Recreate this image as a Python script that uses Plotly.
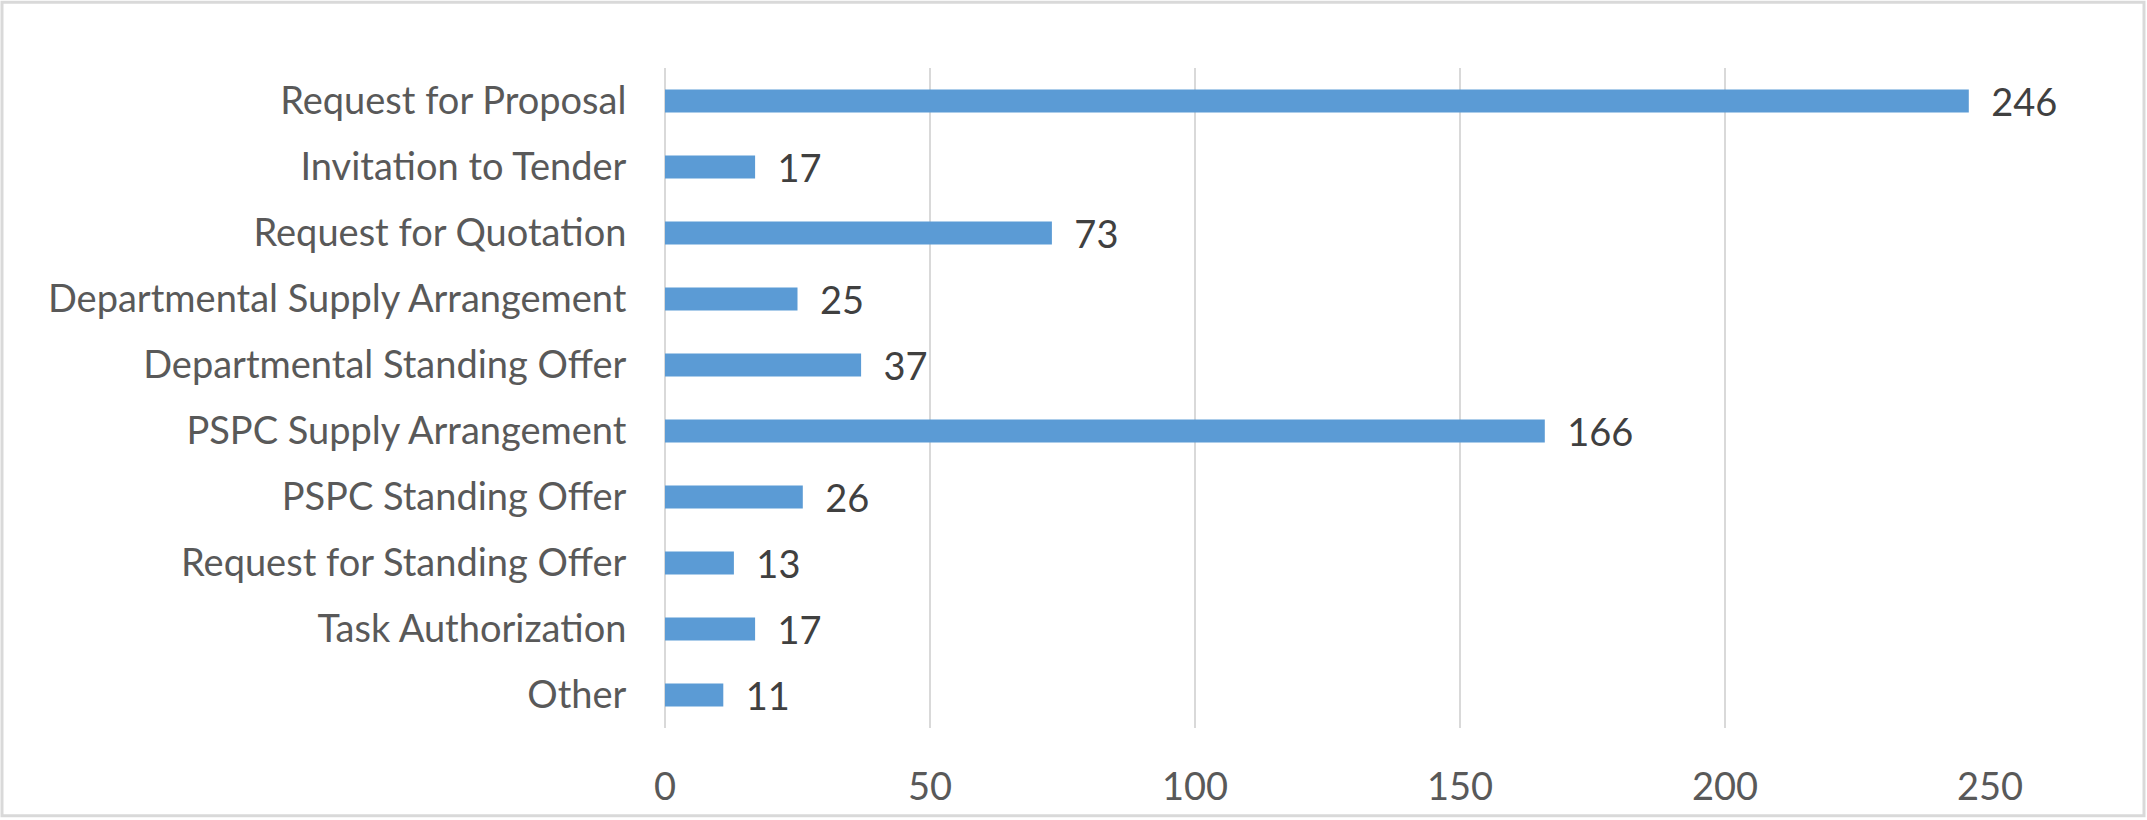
import plotly.graph_objects as go

categories = [
    "Request for Proposal",
    "Invitation to Tender",
    "Request for Quotation",
    "Departmental Supply Arrangement",
    "Departmental Standing Offer",
    "PSPC Supply Arrangement",
    "PSPC Standing Offer",
    "Request for Standing Offer",
    "Task Authorization",
    "Other",
]
values = [246, 17, 73, 25, 37, 166, 26, 13, 17, 11]
x_ticks = [0, 50, 100, 150, 200, 250]

W, H = 2147, 820
ML, MR, MT, MB = 665, 157, 68, 90
PW, PH = W - ML - MR, H - MT - MB

FONT = "Lato"
FS = 38

fig = go.Figure()
fig.add_trace(go.Bar(
    x=values,
    y=categories,
    orientation="h",
    marker=dict(color="#5b9bd5", line=dict(width=0)),
    text=["\u00a0\u00a0" + str(v) for v in values],
    textposition="outside",
    textfont=dict(family=FONT, size=FS, color="#404040"),
    constraintext="none",
    cliponaxis=False,
    hoverinfo="x+y",
))

fig.update_layout(
    width=W,
    height=H,
    margin=dict(l=ML, r=MR, t=MT, b=MB, pad=0),
    paper_bgcolor="white",
    plot_bgcolor="white",
    bargap=0.65,
    showlegend=False,
    font=dict(family=FONT, size=FS, color="#595959"),
    xaxis=dict(
        range=[0, 250],
        tickvals=x_ticks,
        showgrid=True,
        gridcolor="#d9d9d9",
        gridwidth=2,
        zeroline=True,
        zerolinecolor="#d9d9d9",
        zerolinewidth=2,
        showline=False,
        ticks="outside",
        ticklen=25,
        tickcolor="rgba(0,0,0,0)",
        tickfont=dict(family=FONT, size=FS, color="#595959"),
        fixedrange=True,
    ),
    yaxis=dict(
        autorange="reversed",
        showgrid=False,
        zeroline=False,
        showline=False,
        ticks="outside",
        ticklen=30,
        tickcolor="rgba(0,0,0,0)",
        tickfont=dict(family=FONT, size=FS, color="#595959"),
        fixedrange=True,
    ),
    shapes=[dict(
        type="rect",
        xref="paper", yref="paper",
        x0=-(ML - 2) / PW, x1=1 + (MR - 3) / PW,
        y0=-(MB - 2) / PH, y1=1 + (MT - 2) / PH,
        line=dict(color="#d9d9d9", width=3),
        fillcolor="rgba(0,0,0,0)",
        layer="below",
    )],
)

fig.write_html(
    "out.html",
    config={"displayModeBar": False},
    post_script="document.body.style.margin='0';document.body.style.overflow='hidden';",
)
